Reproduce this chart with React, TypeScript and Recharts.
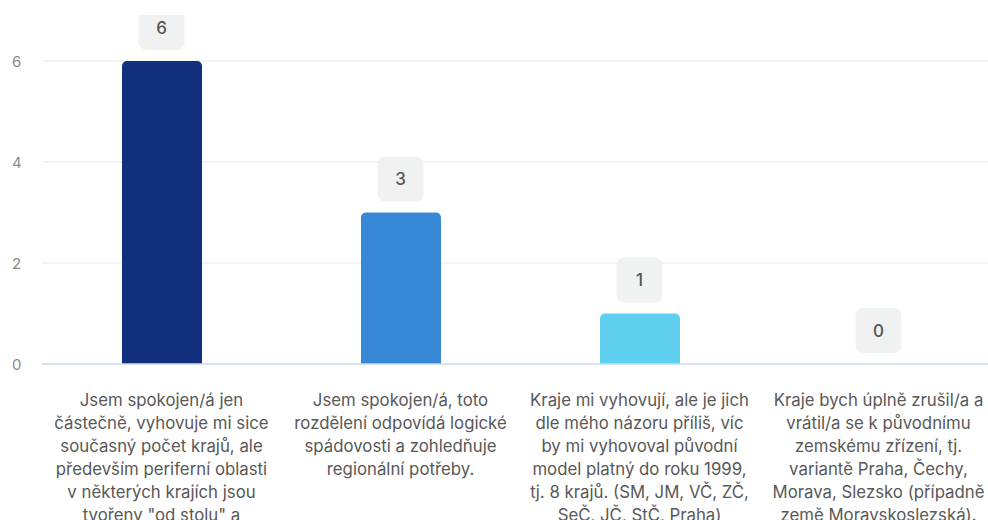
import { ComposedChart, Bar, Line, XAxis, YAxis, CartesianGrid, Cell } from 'recharts'

// answer options (line breaks as shown under the bars)
const categories = [
  'Jsem spokojen/á jen\nčástečně, vyhovuje mi sice\nsoučasný počet krajů, ale\npředevším periferní oblasti\nv některých krajích jsou\ntvořeny "od stolu" a',
  'Jsem spokojen/á, toto\nrozdělení odpovídá logické\nspádovosti a zohledňuje\nregionální potřeby.',
  'Kraje mi vyhovují, ale je jich\ndle mého názoru příliš, víc\nby mi vyhovoval původní\nmodel platný do roku 1999,\ntj. 8 krajů. (SM, JM, VČ, ZČ,\nSeČ, JČ, StČ, Praha)',
  'Kraje bych úplně zrušil/a a\nvrátil/a se k původnímu\nzemskému zřízení, tj.\nvariantě Praha, Čechy,\nMorava, Slezsko (případně\nzemě Moravskoslezská).',
]
const counts = [6, 3, 1, 0]
const barColors = ['#13307f', '#3789d8', '#5fcfef', '#9fdcf2']
const yTicks = [0, 2, 4, 6]

const data = categories.map((name, i) => ({ name, value: counts[i] }))

const FONT = 'Inter, "Noto Sans", sans-serif'

function YTick(props: any) {
  const { y, payload } = props
  return (
    <text x={12} y={y} dominantBaseline="central" fontSize={15} fill="#8a8a8a">
      {payload.value}
    </text>
  )
}

function XTick(props: any) {
  const { x, y, payload } = props
  const lines = String(payload.value).split('\n')
  return (
    <text x={x} y={y} textAnchor="middle" fontSize={16.8} fill="#585858">
      {lines.map((line, i) => (
        <tspan key={i} x={x} y={y + 34 + i * 23}>
          {line}
        </tspan>
      ))}
    </text>
  )
}

// grey rounded box with the count, sitting above each bar
function ValueBox(props: any) {
  const { x, y, value } = props
  const cx = Number(x)
  const bottom = Number(y) - 11
  const h = 45
  const w = 46
  return (
    <g>
      <rect x={cx - w / 2} y={bottom - h} width={w} height={h} rx={8} fill="#f0f1f1" />
      <text
        x={cx}
        y={bottom - h / 2}
        textAnchor="middle"
        dominantBaseline="central"
        fontSize={17}
        fontWeight={500}
        fill="#555"
      >
        {value}
      </text>
    </g>
  )
}

export default function App() {
  return (
    <div
      style={{
        position: 'absolute',
        left: 0,
        top: 0,
        width: 988,
        height: 520,
        overflow: 'hidden',
        background: '#fff',
        fontFamily: FONT,
      }}
    >
      <div style={{ position: 'absolute', left: 0, top: 15 }}>
        <ComposedChart
          width={1000}
          height={505}
          data={data}
          margin={{ top: 46, right: 2, left: 0, bottom: 0 }}
        >
          <CartesianGrid vertical={false} stroke="#e8e8e8" />
          <XAxis
            dataKey="name"
            interval={0}
            height={156}
            tickLine={false}
            axisLine={{ stroke: '#d2ddef', strokeWidth: 1.5 }}
            tick={<XTick />}
          />
          <YAxis
            width={42}
            domain={[0, 6]}
            ticks={yTicks}
            axisLine={false}
            tickLine={false}
            tick={<YTick />}
          />
          <Bar dataKey="value" barSize={80} radius={[5, 5, 0, 0]} isAnimationActive={false}>
            {data.map((d, i) => (
              <Cell key={d.name} fill={barColors[i]} />
            ))}
          </Bar>
          <Line
            dataKey="value"
            stroke="none"
            dot={false}
            activeDot={false}
            legendType="none"
            isAnimationActive={false}
            label={<ValueBox />}
          />
        </ComposedChart>
      </div>
    </div>
  )
}
